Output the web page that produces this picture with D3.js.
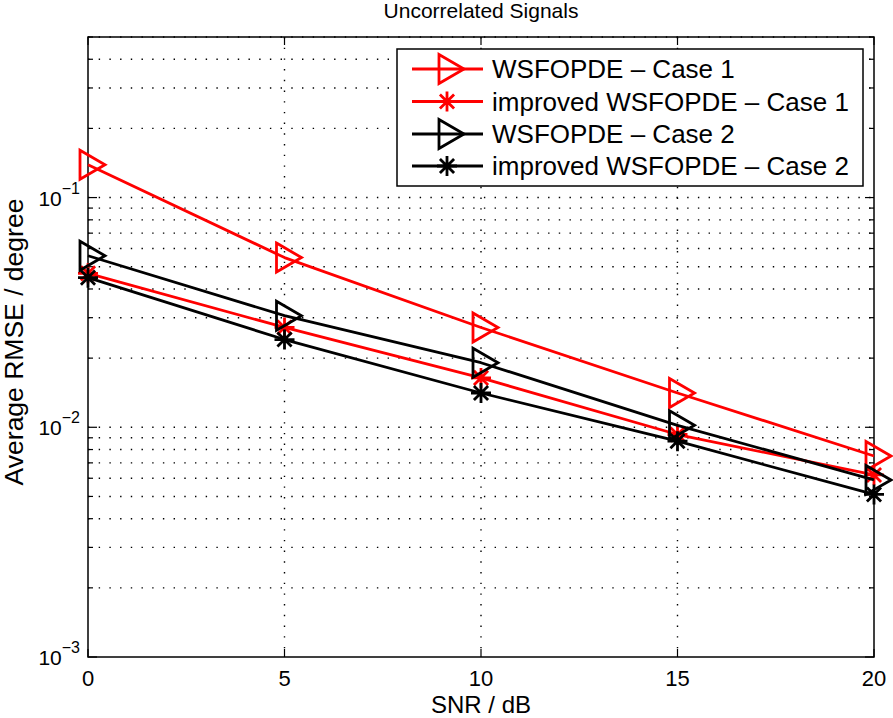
<!DOCTYPE html>
<html><head><meta charset="utf-8">
<script src="https://cdn.jsdelivr.net/npm/d3@7"></script>
<style>
html,body{margin:0;padding:0;background:#fff;}
text{font-family:"Liberation Sans",Arial,Helvetica,sans-serif;fill:#000;}
</style></head>
<body>
<svg id="chart" width="893" height="718"></svg>
<script>
const snr = [0, 5, 10, 15, 20];
const wsfCase1 = [0.139, 0.0548, 0.0272, 0.0141, 0.0075];
const impCase1 = [0.0468, 0.0272, 0.0164, 0.0093, 0.0062];
const wsfCase2 = [0.0558, 0.0306, 0.0191, 0.0102, 0.0059];
const impCase2 = [0.0448, 0.0241, 0.0141, 0.0087, 0.0051];
const seriesNames = ["WSFOPDE \u2013 Case 1", "improved WSFOPDE \u2013 Case 1", "WSFOPDE \u2013 Case 2", "improved WSFOPDE \u2013 Case 2"];
const seriesColors = ["#ff0000", "#ff0000", "#000000", "#000000"];
const seriesMarkers = ["tri", "star", "tri", "star"];
const xTicks = [0, 5, 10, 15, 20];
const yMajorTicks = [1e-3, 1e-2, 1e-1];
const yTickExp = ["\u22123", "\u22122", "\u22121"];

const seriesValues = [wsfCase1, impCase1, wsfCase2, impCase2];

const svg = d3.select("#chart");
const L = 88, R = 874, T = 37, B = 657;
const x = d3.scaleLinear().domain([0, 20]).range([L, R]);
const y = d3.scaleLog().domain([1e-3, 0.5]).range([B, T]);

const minorVals = [];
[1e-3, 1e-2, 1e-1].forEach(d => { for (let k = 2; k <= 9; k++) { const v = d * k; if (v <= 0.5 + 1e-9) minorVals.push(v); } });
const allY = yMajorTicks.concat(minorVals);

const grid = svg.append("g");
grid.selectAll("line.hg").data(allY.filter(v => v > 1e-3)).enter().append("line")
  .attr("x1", L).attr("x2", R).attr("y1", d => y(d)).attr("y2", d => y(d))
  .attr("stroke", "#000").attr("stroke-width", 1.4).attr("stroke-dasharray", "1.4,9.3");
grid.selectAll("line.vg").data(xTicks.filter(v => v > 0 && v < 20)).enter().append("line")
  .attr("x1", d => x(d)).attr("x2", d => x(d)).attr("y1", T).attr("y2", B)
  .attr("stroke", "#000").attr("stroke-width", 1.4).attr("stroke-dasharray", "1.4,9.3");

const tk = svg.append("g").attr("stroke", "#000").attr("stroke-width", 1.2);
xTicks.forEach(v => {
  tk.append("line").attr("x1", x(v)).attr("x2", x(v)).attr("y1", B).attr("y2", B - 8);
  tk.append("line").attr("x1", x(v)).attr("x2", x(v)).attr("y1", T).attr("y2", T + 8);
});
allY.forEach(v => {
  const len = yMajorTicks.includes(v) ? 9 : 5;
  tk.append("line").attr("x1", L).attr("x2", L + len).attr("y1", y(v)).attr("y2", y(v));
  tk.append("line").attr("x1", R).attr("x2", R - len).attr("y1", y(v)).attr("y2", y(v));
});

svg.append("rect").attr("x", L).attr("y", T).attr("width", R - L).attr("height", B - T)
  .attr("fill", "none").attr("stroke", "#000").attr("stroke-width", 1.5);

svg.selectAll("text.xt").data(xTicks).enter().append("text")
  .attr("x", d => x(d)).attr("y", 686).attr("text-anchor", "middle")
  .attr("font-size", 22).text(d => d);
yMajorTicks.forEach((v, i) => {
  const t = svg.append("text").attr("x", 80).attr("y", y(v) + 8).attr("text-anchor", "end").attr("font-size", 21);
  t.append("tspan").text("10");
  t.append("tspan").attr("dy", -12).attr("font-size", 16).text(yTickExp[i]);
});

svg.append("text").attr("x", (L + R) / 2).attr("y", 712.5).attr("text-anchor", "middle").attr("font-size", 24).text("SNR / dB");
svg.append("text").attr("transform", `translate(23,342) rotate(-90)`).attr("text-anchor", "middle").attr("font-size", 26.5).text("Average RMSE / degree");
svg.append("text").attr("x", (L + R) / 2).attr("y", 18).attr("text-anchor", "middle").attr("font-size", 21).text("Uncorrelated Signals");

function drawMarker(g, type, cx, cy, color) {
  if (type === "tri") {
    g.append("path").attr("d", `M${cx - 8},${cy - 14.5}L${cx + 17},${cy}L${cx - 8},${cy + 14.5}Z`)
      .attr("fill", "none").attr("stroke", color).attr("stroke-width", 2.8).attr("stroke-linejoin", "miter");
  } else {
    const r = 10, d = r * 0.707;
    g.append("path").attr("d", `M${cx - r},${cy}L${cx + r},${cy}M${cx},${cy - r}L${cx},${cy + r}M${cx - d},${cy - d}L${cx + d},${cy + d}M${cx - d},${cy + d}L${cx + d},${cy - d}`)
      .attr("fill", "none").attr("stroke", color).attr("stroke-width", 2.8);
  }
}

const line = d3.line().x(d => x(d[0])).y(d => y(d[1]));
seriesValues.forEach((vals, i) => {
  const g = svg.append("g");
  const pts = snr.map((s, j) => [s, vals[j]]);
  g.append("path").attr("d", line(pts)).attr("fill", "none").attr("stroke", seriesColors[i]).attr("stroke-width", 2.8).attr("stroke-linejoin", "round");
  pts.forEach(p => drawMarker(g, seriesMarkers[i], x(p[0]), y(p[1]), seriesColors[i]));
});

const lg = svg.append("g");
lg.append("rect").attr("x", 397).attr("y", 49).attr("width", 466).attr("height", 137).attr("fill", "#fff").attr("stroke", "#000").attr("stroke-width", 1.5);
const rowY = [69, 101.5, 134, 166];
seriesNames.forEach((n, i) => {
  lg.append("line").attr("x1", 412).attr("x2", 483).attr("y1", rowY[i]).attr("y2", rowY[i]).attr("stroke", seriesColors[i]).attr("stroke-width", 2.8);
  drawMarker(lg, seriesMarkers[i], 447, rowY[i], seriesColors[i]);
  lg.append("text").attr("x", 492).attr("y", rowY[i] + 9).attr("font-size", 26).text(n);
});
</script>
</body></html>
